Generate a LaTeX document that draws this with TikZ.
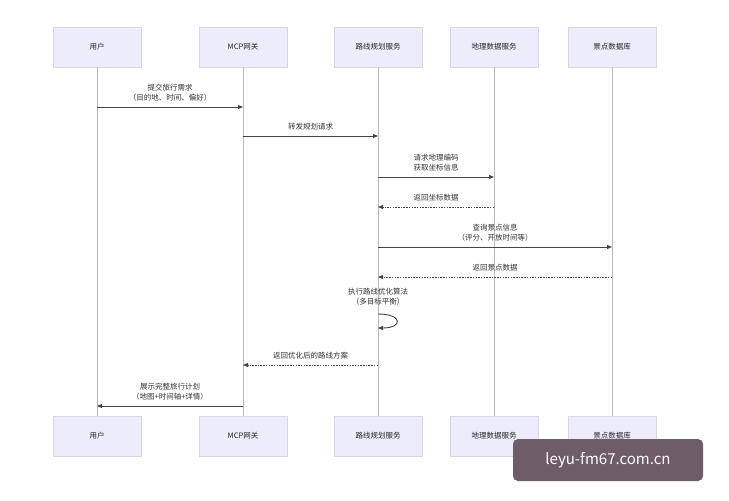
\documentclass[tikz,border=0pt]{standalone}
\usepackage{fontspec}
\setmainfont{Noto Sans CJK SC}
\usetikzlibrary{arrows.meta}
\definecolor{boxfill}{HTML}{ECECFA}
\definecolor{boxline}{HTML}{D6D6E8}
\definecolor{life}{HTML}{B8B8B8}
\definecolor{msg}{HTML}{444444}
\begin{document}
\begin{tikzpicture}[x=1pt,y=-1pt,
  actor/.style={draw=boxline,fill=boxfill,minimum width=88pt,minimum height=40pt,font=\fontsize{7.5}{9}\selectfont,text=black!85},
  lifeline/.style={draw=life,line width=0.6pt},
  call/.style={draw=msg,line width=0.9pt,-{Triangle[length=5pt,width=4pt]}},
  ret/.style={call,dash pattern=on 1.5pt off 1.2pt},
  lbl/.style={font=\fontsize{7.5}{10}\selectfont,align=center,text=black!80}]
\useasboundingbox (0,0) rectangle (729,501);
\fill[white] (0,0) rectangle (729,501);
\foreach \n/\x/\t in {u/97/用户,m/243/MCP网关,r/378/路线规划服务,g/494/地理数据服务,s/612/景点数据库}{
  \node[actor] (\n t) at (\x,47) {\t};
  \node[actor] (\n b) at (\x,436) {\t};
  \draw[lifeline] (\n t) -- (\n b);
}
\foreach \n/\x in {u/97,m/243,r/378,g/494,s/612}{
  \foreach \k/\y in {1/107,2/136,3/177,4/207,5/247,6/277,7a/314,7b/328,8/365,9/406}{
    \coordinate (\n\k) at (\x,\y);
  }
}
\coordinate (loopa) at (403,314);
\coordinate (loopb) at (403,328);
\draw[call] (u1) -- node[lbl,above=2pt] {提交旅行需求\\（目的地、时间、偏好）} (m1);
\draw[call] (m2) -- node[lbl,above=2pt] {转发规划请求} (r2);
\draw[call] (r3) -- node[lbl,above=2pt] {请求地理编码\\获取坐标信息} (g3);
\draw[ret] (g4) -- node[lbl,above=2pt] {返回坐标数据} (r4);
\draw[call] (r5) -- node[lbl,above=2pt] {查询景点信息\\（评分、开放时间等）} (s5);
\draw[ret] (s6) -- node[lbl,above=2pt] {返回景点数据} (r6);
\node[lbl] (optl) at (378,297) {执行路线优化算法\\（多目标平衡）};
\draw[call] (r7a) .. controls (loopa) and (loopb) .. (r7b);
\draw[ret] (r8) -- node[lbl,above=2pt] {返回优化后的路线方案} (m8);
\draw[call] (m9) -- node[lbl,above=2pt] {展示完整旅行计划\\（地图+时间轴+详情）} (u9);
\node[fill={rgb,255:red,110;green,92;blue,104},rounded corners=5pt,minimum width=190pt,minimum height=42pt,text=white,font=\fontsize{15}{18}\selectfont] (wm) at (608,460) {leyu-fm67.com.cn};
\end{tikzpicture}
\end{document}
